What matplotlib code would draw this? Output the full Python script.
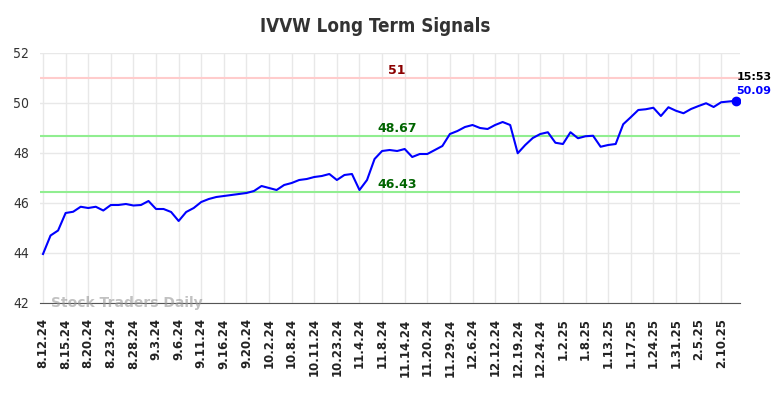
import matplotlib
matplotlib.use("Agg")
import matplotlib.pyplot as plt

title = "IVVW Long Term Signals"
tick_labels = ["8.12.24", "8.15.24", "8.20.24", "8.23.24", "8.28.24", "9.3.24", "9.6.24",
               "9.11.24", "9.16.24", "9.20.24", "10.2.24", "10.8.24", "10.11.24", "10.23.24",
               "11.4.24", "11.8.24", "11.14.24", "11.20.24", "11.29.24", "12.6.24", "12.12.24",
               "12.19.24", "12.24.24", "1.2.25", "1.8.25", "1.13.25", "1.17.25", "1.24.25",
               "1.31.25", "2.5.25", "2.10.25"]
prices = [43.96, 44.7, 44.9, 45.6, 45.65, 45.85, 45.8, 45.85, 45.7, 45.92,
          45.92, 45.96, 45.9, 45.92, 46.08, 45.76, 45.76, 45.64, 45.28, 45.64,
          45.8, 46.04, 46.16, 46.24, 46.28, 46.32, 46.36, 46.4, 46.48, 46.68,
          46.6, 46.52, 46.72, 46.8, 46.92, 46.96, 47.04, 47.08, 47.16, 46.92,
          47.12, 47.16, 46.52, 46.92, 47.76, 48.08, 48.12, 48.08, 48.16, 47.84,
          47.96, 47.96, 48.12, 48.28, 48.76, 48.88, 49.04, 49.12, 49.0, 48.96,
          49.12, 49.24, 49.12, 47.99, 48.32, 48.6, 48.76, 48.83, 48.41, 48.36,
          48.83, 48.59, 48.67, 48.69, 48.25, 48.32, 48.36, 49.15, 49.43, 49.72,
          49.75, 49.81, 49.48, 49.83, 49.69, 49.59, 49.76, 49.88, 49.99, 49.84,
          50.03, 50.06, 50.09]
resistance = 51
upper_support = 48.67
lower_support = 46.43
last_time = "15:53"
last_value = 50.09
watermark = "Stock Traders Daily"

fig = plt.figure(figsize=(7.84, 3.98), dpi=100)
ax = fig.add_axes([40/784, 1-303/398, 700/784, 250/398])

x = list(range(len(prices)))
ax.plot(x, prices, color="#0000ff", lw=1.5, zorder=4)
ax.plot([x[-1]], [prices[-1]], "o", color="#0000ff", ms=6, zorder=5)

ax.axhline(resistance, color="#ffcccc", lw=1.5, zorder=2)
ax.axhline(upper_support, color="#90ee90", lw=1.5, zorder=2)
ax.axhline(lower_support, color="#90ee90", lw=1.5, zorder=2)

mid = 47
ax.text(mid, resistance + 0.05, f"{resistance}", color="#8b0000", fontsize=9,
        fontweight="bold", ha="center", va="bottom")
ax.text(mid, upper_support + 0.05, f"{upper_support:.2f}", color="#006400", fontsize=9,
        fontweight="bold", ha="center", va="bottom")
ax.text(mid, lower_support + 0.05, f"{lower_support:.2f}", color="#006400", fontsize=9,
        fontweight="bold", ha="center", va="bottom")

ax.annotate(last_time, xy=(x[-1], prices[-1]), xytext=(0, 17), textcoords="offset points",
            ha="left", va="center", fontsize=8, fontweight="bold", color="black")
ax.annotate(f"{last_value:.2f}", xy=(x[-1], prices[-1]), xytext=(0, 7), textcoords="offset points",
            ha="left", va="center", fontsize=8, fontweight="bold", color="#0000ff")

ax.text(1, 42.0, watermark, color="#999999", fontsize=10, fontweight="bold",
        ha="left", va="center", alpha=0.6, zorder=6)

ax.set_xlim(-0.4, 92.5)
ax.set_ylim(42, 52)
ax.set_yticks([42, 44, 46, 48, 50, 52])
ax.set_xticks(list(range(0, 3*len(tick_labels), 3)))
ax.set_xticklabels(tick_labels, rotation=90, fontsize=8.5, fontweight="bold", color="#222222")
ax.tick_params(axis="y", labelsize=10, colors="#333333", length=0, pad=8)
ax.tick_params(axis="x", length=0, pad=11)
for lab in ax.get_yticklabels():
    lab.set_fontstretch("condensed")

ax.grid(True, color="#e8e8e8", lw=1, zorder=0)
ax.set_axisbelow(True)
for s in ["top", "right", "left"]:
    ax.spines[s].set_visible(False)
ax.spines["bottom"].set_color("#555555")

fig.text(375/784, 1-26/398, title, ha="center", va="center", fontsize=13.5,
         fontweight="bold", color="#333333", fontstretch="condensed")

fig.savefig("out.png", dpi=100)
